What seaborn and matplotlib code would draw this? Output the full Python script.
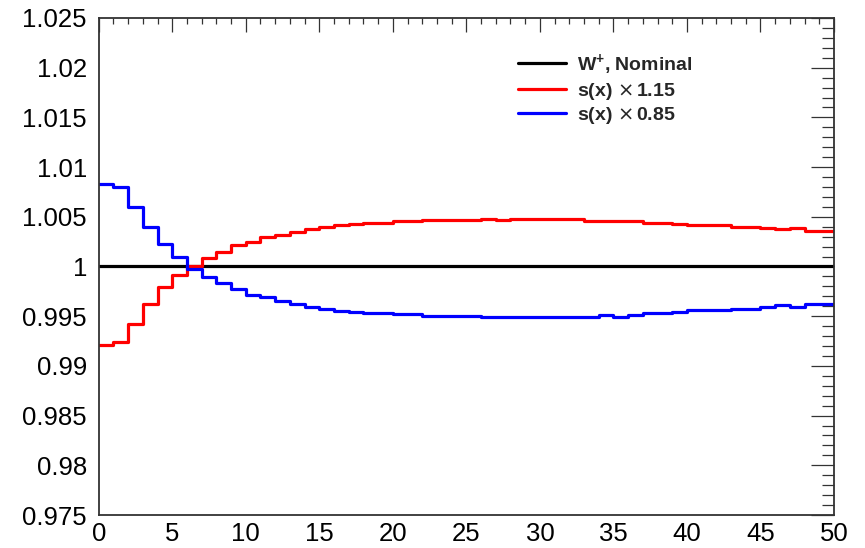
import numpy as np
import pandas as pd
import seaborn as sns
import matplotlib
matplotlib.use("Agg")
import matplotlib.pyplot as plt
from matplotlib.ticker import MultipleLocator, FuncFormatter

# ---- data (bin contents, 50 bins of width 1 from 0 to 50) ----
bin_edges = list(range(0, 51))
nominal = [1.0] * 50
red_vals = [0.99210, 0.99244, 0.99421, 0.99623, 0.99797, 0.99914, 1.00002, 1.00088,
            1.00149, 1.00216, 1.00250, 1.00292, 1.00320, 1.00346, 1.00375, 1.00400,
            1.00418, 1.00428, 1.00440, 1.00440, 1.00455, 1.00455, 1.00468, 1.00468,
            1.00468, 1.00468, 1.00481, 1.00468, 1.00481, 1.00481, 1.00475, 1.00475,
            1.00475, 1.00455, 1.00455, 1.00455, 1.00455, 1.00440, 1.00434, 1.00428,
            1.00418, 1.00418, 1.00418, 1.00400, 1.00400, 1.00384, 1.00374, 1.00387,
            1.00360, 1.00360]
blue_vals = [1.00830, 1.00800, 1.00600, 1.00400, 1.00226, 1.00092, 0.99978, 0.99894,
             0.99831, 0.99771, 0.99713, 0.99693, 0.99655, 0.99622, 0.99593, 0.99569,
             0.99556, 0.99546, 0.99529, 0.99529, 0.99519, 0.99519, 0.99502, 0.99502,
             0.99502, 0.99502, 0.99489, 0.99489, 0.99489, 0.99489, 0.99495, 0.99495,
             0.99495, 0.99495, 0.99515, 0.99495, 0.99510, 0.99529, 0.99529, 0.99546,
             0.99562, 0.99562, 0.99562, 0.99576, 0.99576, 0.99596, 0.99610, 0.99596,
             0.99623, 0.99623]
labels = ["W$^{\\mathbf{+}}$, Nominal", "s(x) $\\times\\,$1.15", "s(x) $\\times\\,$0.85"]
colors = ["black", "#ff0000", "#0000ff"]
y_ticks = [0.975, 0.98, 0.985, 0.99, 0.995, 1.0, 1.005, 1.01, 1.015, 1.02, 1.025]

rows = []
for lab, vals in zip(labels, [nominal, red_vals, blue_vals]):
    ext = list(vals) + [vals[-1]]
    for x, v in zip(bin_edges, ext):
        rows.append({"x": x, "ratio": v, "series": lab})
df = pd.DataFrame(rows)

sns.set_theme(style="white")
plt.rcParams["font.family"] = ["Liberation Sans", "DejaVu Sans"]
plt.rcParams["mathtext.fontset"] = "custom"
plt.rcParams["mathtext.rm"] = "DejaVu Sans"
plt.rcParams["mathtext.bf"] = "Liberation Sans:bold"
plt.rcParams["mathtext.it"] = "Liberation Sans:italic"

fig = plt.figure(figsize=(8.65, 5.48), dpi=100)
ax = fig.add_axes([0.1141, 0.0602, 0.8501, 0.9070])

sns.lineplot(data=df, x="x", y="ratio", hue="series", hue_order=labels,
             palette=colors, estimator=None, sort=False, drawstyle="steps-post",
             linewidth=2.3, ax=ax)

ax.set_xlim(0, 50)
ax.set_ylim(0.975, 1.025)
ax.set_xlabel("")
ax.set_ylabel("")

ax.xaxis.set_major_locator(MultipleLocator(5))
ax.xaxis.set_minor_locator(MultipleLocator(1))
ax.set_yticks(y_ticks)
ax.yaxis.set_minor_locator(MultipleLocator(0.001))
ax.yaxis.set_major_formatter(FuncFormatter(lambda v, p: "%g" % round(v, 4)))

ax.tick_params(axis="both", which="both", direction="in", top=True, right=True,
               color="#333333", width=0.9, labelsize=18.5, labelcolor="black")
ax.tick_params(axis="y", which="major", length=16.5, pad=8.5)
ax.tick_params(axis="y", which="minor", length=8.5)
ax.tick_params(axis="x", which="major", length=10, pad=5)
ax.tick_params(axis="x", which="minor", length=4.5)

for s in ax.spines.values():
    s.set_color("#333333")
    s.set_linewidth(1.3)

leg = ax.legend(loc="upper left", bbox_to_anchor=(0.559, 0.947), frameon=False,
                prop={"weight": "bold", "size": 14}, handlelength=2.5,
                handletextpad=0.57, labelspacing=0.18, borderaxespad=0)

fig.savefig("out.png", dpi=100)
